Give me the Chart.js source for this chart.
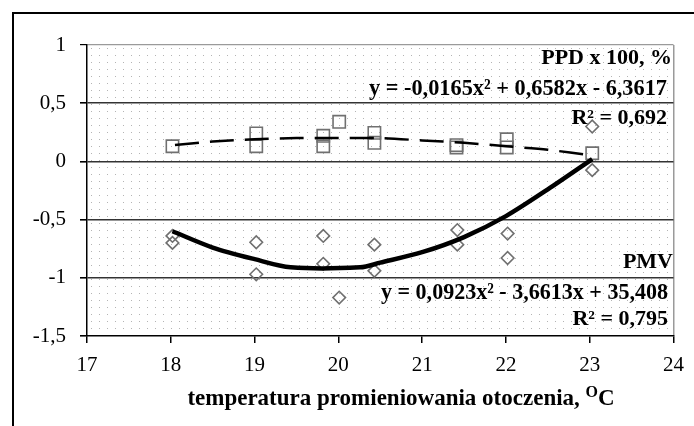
<!DOCTYPE html>
<html>
<head>
<meta charset="utf-8">
<script src="https://cdn.jsdelivr.net/npm/chart.js@4.4.1/dist/chart.umd.min.js"></script>
<style>
body { margin: 0; background: #fff; }
#wrap { position: relative; width: 694px; height: 426px; overflow: hidden; }
#frame { position: absolute; left: 12px; top: 12px; width: 700px; height: 430px; border-top: 2px solid #000; border-left: 2px solid #000; }
canvas { position: absolute; left: 0; top: 0; }
</style>
</head>
<body>
<div id="wrap">
  <canvas id="chartCanvas" width="694" height="426"></canvas>
  <div id="frame"></div>
</div>
<script>
// pomiary PPD x 100 (kwadraty)
const ppdX = [18.02, 19.02, 19.02, 19.82, 19.82, 20.01, 20.43, 20.43, 21.41, 21.41, 22.01, 22.01, 23.03];
const ppdY = [0.13, 0.24, 0.13, 0.22, 0.13, 0.34, 0.245, 0.16, 0.14, 0.12, 0.19, 0.12, 0.07];

// pomiary PMV (romby)
const pmvX = [18.02, 18.02, 19.02, 19.02, 19.82, 19.82, 20.01, 20.43, 20.43, 21.42, 21.42, 22.02, 22.02, 23.03, 23.03];
const pmvY = [-0.64, -0.70, -0.695, -0.97, -0.64, -0.88, -1.17, -0.715, -0.94, -0.59, -0.715, -0.62, -0.83, 0.30, -0.075];

// linie trendu
const ppdTrendX = [18.05, 18.5, 19, 19.5, 20, 20.5, 21, 21.5, 22, 22.5, 23.03];
const ppdTrendY = [0.14, 0.17, 0.19, 0.20, 0.20, 0.20, 0.18, 0.16, 0.13, 0.10, 0.05];
const pmvTrendX = [18.02, 18.5, 19, 19.43, 20.26, 20.5, 21, 21.5, 22, 22.5, 23.03];
const pmvTrendY = [-0.60, -0.74, -0.84, -0.91, -0.91, -0.87, -0.78, -0.65, -0.47, -0.24, 0.02];

const xTicks = [17, 18, 19, 20, 21, 22, 23, 24];
const yTicks = [-1.5, -1, -0.5, 0, 0.5, 1];

const labels = [
    { text: 'PPD x 100, %', y: 58, size: 22, right: 672 },
    { text: 'y = -0,0165x\u00B2 + 0,6582x - 6,3617', y: 89, size: 23, right: 667, maxW: 298 },
    { text: 'R\u00B2 = 0,692', y: 118, size: 22, right: 667 },
    { text: 'PMV', y: 262, size: 22, right: 673 },
    { text: 'y = 0,0923x\u00B2 - 3,6613x + 35,408', y: 293, size: 23, right: 668, maxW: 287 },
    { text: 'R\u00B2 = 0,795', y: 319, size: 22, right: 668 }
];
const xTitle = 'temperatura promieniowania otoczenia, ';

const toPts = (xs, ys) => xs.map((x, i) => ({ x: x, y: ys[i] }));
const serif = '"Liberation Serif", "Times New Roman", serif';

// kropkowane tlo obszaru wykresu
const dotCanvas = document.createElement('canvas');
dotCanvas.width = 8;
dotCanvas.height = 7;
const dctx = dotCanvas.getContext('2d');
dctx.fillStyle = '#b4b4b4';
dctx.fillRect(4, 3, 1, 1);

const bgPlugin = {
    id: 'bg',
    beforeDraw(chart) {
        const { ctx, chartArea: a } = chart;
        ctx.save();
        ctx.fillStyle = '#fff';
        ctx.fillRect(a.left, a.top, a.right - a.left, a.bottom - a.top);
        ctx.translate(a.left, a.top);
        ctx.fillStyle = ctx.createPattern(dotCanvas, 'repeat');
        ctx.fillRect(0, 0, a.right - a.left, a.bottom - a.top);
        ctx.restore();
    }
};

const textPlugin = {
    id: 'texts',
    afterDraw(chart) {
        const ctx = chart.ctx;
        ctx.save();
        ctx.fillStyle = '#000';
        ctx.textAlign = 'right';
        ctx.textBaseline = 'middle';
        labels.forEach(l => {
            ctx.font = `bold ${l.size}px ${serif}`;
            if (l.maxW) ctx.fillText(l.text, l.right, l.y, l.maxW);
            else ctx.fillText(l.text, l.right, l.y);
        });

        // tytul osi X z indeksem gornym O
        ctx.textAlign = 'left';
        ctx.textBaseline = 'alphabetic';
        ctx.font = `bold 23px ${serif}`;
        const w1 = ctx.measureText(xTitle).width;
        const wC = ctx.measureText('C').width;
        ctx.font = `bold 16px ${serif}`;
        const wO = ctx.measureText('O').width;
        let x = 401 - (w1 + wO + wC) / 2;
        const base = 405;
        ctx.font = `bold 23px ${serif}`;
        ctx.fillText(xTitle, x, base);
        x += w1;
        ctx.font = `bold 16px ${serif}`;
        ctx.fillText('O', x, base - 8);
        x += wO;
        ctx.font = `bold 23px ${serif}`;
        ctx.fillText('C', x, base);
        ctx.restore();
    }
};

const ctx = document.getElementById('chartCanvas').getContext('2d');
const chart = new Chart(ctx, {
    type: 'scatter',
    data: {
        datasets: [
            {
                type: 'line',
                label: 'PMV trend',
                data: toPts(pmvTrendX, pmvTrendY),
                borderColor: '#000',
                borderWidth: 4.5,
                pointRadius: 0,
                tension: 0.3,
                fill: false
            },
            {
                type: 'line',
                label: 'PPD trend',
                data: toPts(ppdTrendX, ppdTrendY),
                borderColor: '#000',
                borderWidth: 2.5,
                borderDash: [24, 11],
                pointRadius: 0,
                tension: 0.3,
                fill: false
            },
            {
                label: 'PPD x 100, %',
                data: toPts(ppdX, ppdY),
                pointStyle: 'rect',
                pointRadius: 8.7,
                pointBorderColor: '#707070',
                pointBorderWidth: 1.6,
                pointBackgroundColor: 'rgba(0,0,0,0)'
            },
            {
                label: 'PMV',
                data: toPts(pmvX, pmvY),
                pointStyle: 'rectRot',
                pointRadius: 6.3,
                pointBorderColor: '#707070',
                pointBorderWidth: 1.6,
                pointBackgroundColor: 'rgba(0,0,0,0)'
            }
        ]
    },
    options: {
        responsive: false,
        animation: false,
        layout: { padding: { left: 0, right: 17, top: 45, bottom: 0 } },
        plugins: {
            legend: { display: false },
            tooltip: { enabled: false }
        },
        scales: {
            x: {
                type: 'linear',
                min: 17,
                max: 24,
                afterBuildTicks: s => { s.ticks = xTicks.map(v => ({ value: v })); },
                afterFit: s => { s.height = 90; },
                ticks: {
                    color: '#000',
                    padding: 10,
                    font: { family: serif, size: 21 }
                },
                grid: {
                    color: c => c.tick && c.tick.value === 24 ? '#9a9a9a' : 'rgba(0,0,0,0)',
                    tickColor: '#000',
                    tickLength: 7,
                    lineWidth: 1.5
                },
                border: { color: '#000', width: 1.5 }
            },
            y: {
                min: -1.5,
                max: 1,
                afterBuildTicks: s => { s.ticks = yTicks.map(v => ({ value: v })); },
                afterFit: s => { s.width = 87; },
                ticks: {
                    color: '#000',
                    padding: 14,
                    font: { family: serif, size: 21 },
                    callback: v => String(v).replace('.', ',')
                },
                grid: {
                    color: c => {
                        if (!c.tick) return 'rgba(0,0,0,0)';
                        if (c.tick.value === 1) return '#9a9a9a';
                        if (c.tick.value === -1.5) return 'rgba(0,0,0,0)';
                        return '#333';
                    },
                    lineWidth: c => c.tick && c.tick.value === 1 ? 1.2 : 1.6,
                    tickColor: '#000',
                    tickLength: 7
                },
                border: { color: '#000', width: 1.5 }
            }
        }
    },
    plugins: [bgPlugin, textPlugin]
});
</script>
</body>
</html>
